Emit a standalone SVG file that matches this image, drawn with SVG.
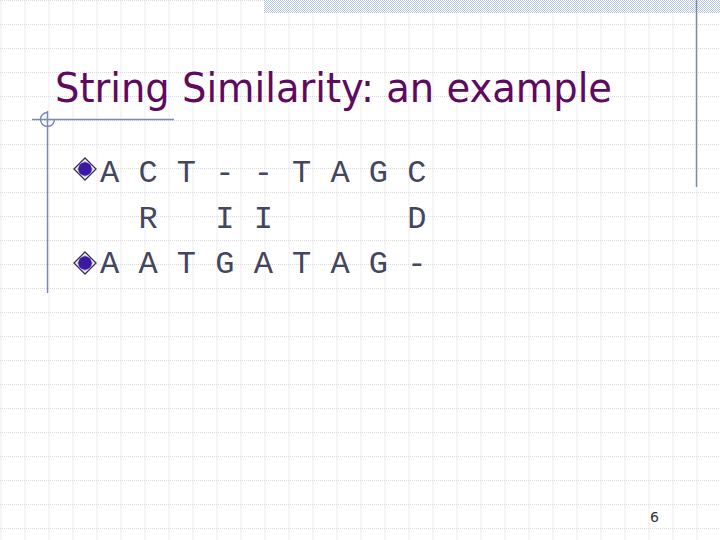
<svg xmlns="http://www.w3.org/2000/svg" width="720" height="540" viewBox="0 0 720 540">
<defs>
<pattern id="grid" x="0" y="0" width="24" height="24" patternUnits="userSpaceOnUse">
<path d="M1 0.5 V24" stroke="#dadada" stroke-width="1" stroke-dasharray="1 1" fill="none"/>
<path d="M0 0.5 H24" stroke="#dadada" stroke-width="1" stroke-dasharray="1 1" fill="none"/>
</pattern>
<pattern id="check" x="0" y="0" width="2" height="2" patternUnits="userSpaceOnUse">
<rect width="2" height="2" fill="#ffffff"/>
<rect width="1" height="1" fill="#b8c6e6"/>
<rect x="1" y="1" width="1" height="1" fill="#b8c6e6"/>
</pattern>
<g id="bullet">
<path d="M0 -11 L11 0 L0 11 L-11 0 Z" fill="#ffffff" stroke="#3a2a5a" stroke-width="1.3"/>
<path d="M0 -8.5 L8.5 0 L0 8.5 L-8.5 0 Z" fill="#c4b4e4" stroke="none"/>
<circle r="6.8" fill="#3a1aa0"/>
</g>
</defs>
<style>
.seq { font-family: "Liberation Mono", "Courier New", monospace; font-size: 32px; fill: #44465f; white-space: pre; }
.title { font-family: "DejaVu Sans", Verdana, sans-serif; font-size: 41px; fill: #5e0a5e; }
.deco { stroke: #7b89b3; stroke-width: 1.5; fill: none; }
</style>
<rect width="720" height="540" fill="#ffffff"/>
<rect width="720" height="540" fill="url(#grid)"/>
<g id="decoration">
<rect x="264" y="0" width="456" height="13" fill="url(#check)"/>
<line class="deco" x1="696.5" y1="0" x2="696.5" y2="187"/>
<line class="deco" x1="47.5" y1="111" x2="47.5" y2="293"/>
<line class="deco" x1="32" y1="119.5" x2="174" y2="119.5"/>
<path class="deco" d="M47.5 112.5 A7 7 0 1 0 54.5 119.5" stroke-width="1"/>
</g>
<g id="title">
<text class="title" x="55" y="102" textLength="557" lengthAdjust="spacingAndGlyphs">String Similarity: an example</text>
</g>
<g id="row1">
<use href="#bullet" x="85" y="169"/>
<text class="seq" x="100" y="182">A C T - - T A G C</text>
</g>
<g id="row2">
<text class="seq" x="100" y="228">  R   I I       D</text>
</g>
<g id="row3">
<use href="#bullet" x="85" y="263"/>
<text class="seq" x="100" y="273">A A T G A T A G -</text>
</g>
<g id="page">
<text x="650" y="522" font-family="DejaVu Sans, Verdana, sans-serif" font-size="14" fill="#333333">6</text>
</g>
</svg>
